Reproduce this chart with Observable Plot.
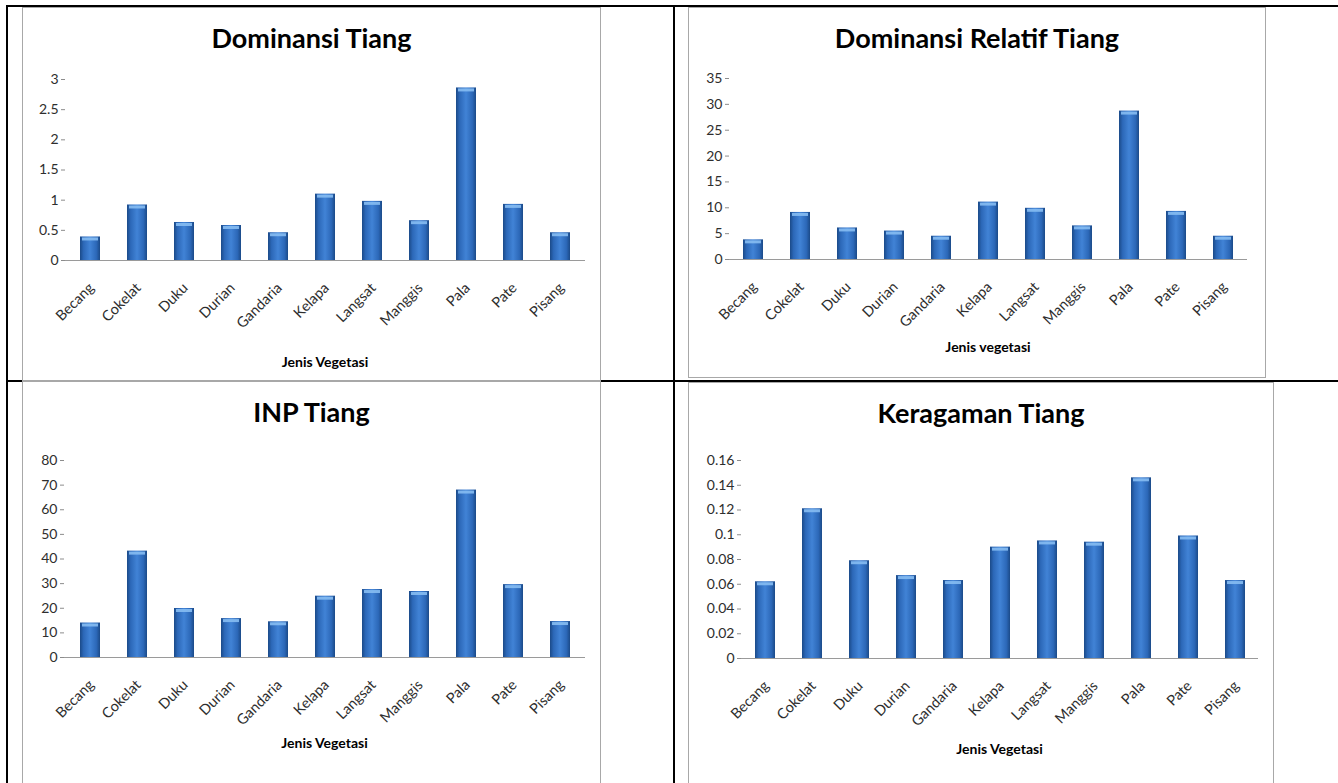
<!DOCTYPE html>
<html><head><meta charset="utf-8">
<script src="https://cdn.jsdelivr.net/npm/d3@7"></script>
<script src="https://cdn.jsdelivr.net/npm/@observablehq/plot@0.6"></script>
<style>
body{margin:0;background:#fff;width:1338px;height:783px;overflow:hidden;position:relative;font-family:Lato,"Open Sans",sans-serif;}
.line{position:absolute;background:#000;}
.box{position:absolute;background:#fff;border:1px solid #a8a8a8;box-sizing:border-box;overflow:hidden;}
.title{position:absolute;left:0;right:0;text-align:center;font-weight:700;font-size:27px;line-height:32px;color:#000;}
.xlabel{position:absolute;text-align:center;font-weight:700;font-size:14px;line-height:16px;color:#000;transform:translateX(-50%);white-space:nowrap;}
.box svg{position:absolute;left:0;top:0;}
</style></head>
<body>
<svg width="0" height="0" style="position:absolute"><defs>
<linearGradient id="barGrad" x1="0" x2="1" y1="0" y2="0">
<stop offset="0" stop-color="#1b4a88"/>
<stop offset="0.18" stop-color="#2c68b8"/>
<stop offset="0.5" stop-color="#4183d6"/>
<stop offset="0.82" stop-color="#2c68b8"/>
<stop offset="1" stop-color="#1b4a88"/>
</linearGradient>
</defs></svg>

<div class="line" style="left:6px;top:5px;width:1332px;height:2px"></div>
<div class="line" style="left:6px;top:5px;width:2px;height:778px"></div>
<div class="line" style="left:673px;top:5px;width:2px;height:778px"></div>
<div class="line" style="left:6px;top:380px;width:1332px;height:2px"></div>

<div id="c1" class="box" style="left:22px;top:7px;width:579px;height:374px"></div>
<div id="c2" class="box" style="left:688px;top:7px;width:578px;height:371px"></div>
<div id="c3" class="box" style="left:22px;top:381px;width:579px;height:404px"></div>
<div id="c4" class="box" style="left:688px;top:382px;width:586px;height:403px"></div>

<script>
const categories = ["Becang","Cokelat","Duku","Durian","Gandaria","Kelapa","Langsat","Manggis","Pala","Pate","Pisang"];

const dominansiTiang = [0.39,0.92,0.63,0.58,0.46,1.1,0.98,0.66,2.86,0.93,0.46];
const dominansiRelatifTiang = [3.8,9.1,6.1,5.5,4.5,11.1,9.9,6.5,28.7,9.3,4.5];
const inpTiang = [14,43.2,19.9,15.8,14.5,24.9,27.6,26.8,68,29.6,14.6];
const keragamanTiang = [0.062,0.121,0.079,0.067,0.063,0.090,0.095,0.094,0.146,0.099,0.063];

const ticks1 = [0,0.5,1,1.5,2,2.5,3];
const ticks2 = [0,5,10,15,20,25,30,35];
const ticks3 = [0,10,20,30,40,50,60,70,80];
const ticks4 = [0,0.02,0.04,0.06,0.08,0.1,0.12,0.14,0.16];

const titles = ["Dominansi Tiang","Dominansi Relatif Tiang","INP Tiang","Keragaman Tiang"];
const xLabels = ["Jenis Vegetasi","Jenis vegetasi","Jenis Vegetasi","Jenis Vegetasi"];

function chart(id, values, ticks, title, xlabel, dims) {
  const box = document.getElementById(id);
  const rows = categories.map((c, i) => ({name: c, value: values[i]}));
  const p = Plot.plot({
    width: dims.w, height: dims.h,
    marginLeft: dims.ml, marginRight: dims.mr, marginTop: dims.mt, marginBottom: dims.mb,
    style: {fontFamily: "Lato, 'Open Sans', sans-serif", fontSize: "13px", background: "transparent", overflow: "visible"},
    x: {domain: categories, paddingInner: 0.575, paddingOuter: 0.2875, label: null},
    y: {domain: [ticks[0], ticks[ticks.length - 1]], label: null},
    marks: [
      Plot.axisY({ticks: ticks, tickFormat: d => String(d), tickSize: 4, tickPadding: 3, stroke: "#8c8c8c", fill: "#2e2e2e", fontSize: 14, label: null}),
      Plot.ruleX([0], {x: () => null, frameAnchor: "left", stroke: "#9a9a9a"}),
      Plot.barY(rows, {x: "name", y: "value", fill: "url(#barGrad)"}),
      Plot.tickY(rows, {x: "name", y: "value", stroke: "#86bcf2", strokeWidth: 3, dy: 2, insetLeft: 2, insetRight: 2, strokeOpacity: 0.9}),
      Plot.ruleY([ticks[0]], {stroke: "#9a9a9a"}),
      Plot.axisX({tickSize: 0, tickPadding: 19, dx: 1, dy: 6, tickRotate: -45, fill: "#2e2e2e", fontSize: 14.5, label: null})
    ]
  });
  box.appendChild(p);
  const t = document.createElement("div");
  t.className = "title"; t.textContent = title; t.style.top = dims.tt + "px";
  box.appendChild(t);
  const xl = document.createElement("div");
  xl.className = "xlabel"; xl.textContent = xlabel;
  xl.style.left = (dims.ml + (dims.w - dims.ml - dims.mr) / 2) + "px";
  xl.style.top = dims.lt + "px";
  box.appendChild(xl);
}

chart("c1", dominansiTiang, ticks1, titles[0], xLabels[0], {w: 577, h: 372, ml: 42, mr: 15, mt: 71, mb: 120, tt: 14, lt: 346});
chart("c2", dominansiRelatifTiang, ticks2, titles[1], xLabels[1], {w: 576, h: 369, ml: 40, mr: 18, mt: 70, mb: 118, tt: 14, lt: 331});
chart("c3", inpTiang, ticks3, titles[2], xLabels[2], {w: 577, h: 402, ml: 41, mr: 15, mt: 78, mb: 127, tt: 14, lt: 353});
chart("c4", keragamanTiang, ticks4, titles[3], xLabels[3], {w: 584, h: 401, ml: 52, mr: 15, mt: 77, mb: 126, tt: 14, lt: 358});
</script>
</body></html>
